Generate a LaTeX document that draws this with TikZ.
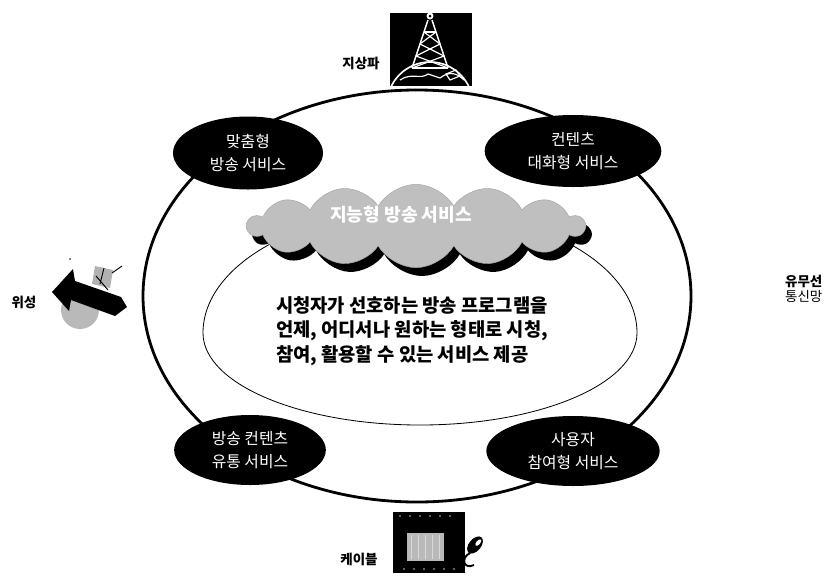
\documentclass[tikz,border=0pt]{standalone}
\usepackage{fontspec}
\newfontfamily\kr{Noto Sans CJK KR}
\usetikzlibrary{shapes.geometric,shapes.symbols,shadows}

\begin{document}
\begin{tikzpicture}[x=0.03cm,y=-0.03cm,
	service/.style={ellipse,fill=black,text=white,inner sep=0pt,align=center,
		font=\kr\fontsize{13.5}{19.5}\selectfont},
	medium/.style={font=\kr\bfseries\fontsize{11.5}{13}\selectfont}]
\useasboundingbox (0,0) rectangle (832,575);
%\draw[red!20] (0,0) grid[step=50] (832,575);

% outer ring and inner area
\draw[line width=2.4pt] (417,296) ellipse (274 and 206);
\draw[line width=0.7pt] (203,333) arc[start angle=180,end angle=360,x radius=217,y radius=123]
	arc[start angle=0,end angle=180,x radius=217,y radius=92];

% cloud
\node[cloud,cloud puffs=14,cloud puff arc=120,cloud ignores aspect,
	minimum width=10.1cm,minimum height=2.5cm,inner sep=0pt,
	fill=gray!50,draw=gray!70,
	drop shadow={shadow xshift=0.18cm,shadow yshift=-0.25cm,fill=black,opacity=1}]
	(cloud) at (416,226) {};
\node[text=white,font=\kr\bfseries\fontsize{15.5}{17}\selectfont] (cloudtitle) at (401,215) {지능형 방송 서비스};

\node[anchor=west,align=left,font=\kr\bfseries\fontsize{16}{20.8}\selectfont] (goal) at (272,331)
	{시청자가 선호하는 방송 프로그램을\\언제, 어디서나 원하는 형태로 시청,\\참여, 활용할 수 있는 서비스 제공};

% four services
\node[service,minimum width=4.5cm,minimum height=2.19cm] (custom) at (248,153) {맞춤형\\방송 서비스};
\node[service,minimum width=5.3cm,minimum height=2.16cm] (talk) at (573,151) {컨텐츠\\대화형 서비스};
\node[service,minimum width=4.55cm,minimum height=2.1cm] (trade) at (250,450) {방송 컨텐츠\\유통 서비스};
\node[service,minimum width=5.2cm,minimum height=2.1cm] (join) at (573,451) {사용자\\참여형 서비스};

% tower
\fill (390,13) rectangle (472,86);
\begin{scope}[white,line width=1pt]
\clip (390,13) rectangle (472,86);
\draw[line width=1.4pt] (430,105) circle (43);
\draw (400,80) .. controls (412,72) and (420,80) .. (428,74) -- (440,78) .. controls (450,70) and (458,74) .. (464,80);
\draw (446,74) -- (456,70) -- (460,76) -- (450,80) -- cycle;
\draw[line width=1.3pt] (428,20) -- (412,68) (432,20) -- (448,68);
\draw (424,32) -- (436,32);
\foreach \a/\b in {32/44,44/56,56/68}
{
	\draw ({428-(\a-20)/3},\a) -- ({432+(\b-20)/3},\b);
	\draw ({432+(\a-20)/3},\a) -- ({428-(\b-20)/3},\b);
}
\draw (412,68) -- (448,68);
\fill (430,16) circle (3.5);
\fill[black] (430,16) circle (1.5);
\end{scope}
\node[medium] (ground) at (361,63) {지상파};

% satellite
\fill[gray!55] (80,310) circle (19);
\fill (52,292) -- (73,269) -- (75,281) -- (121,297) -- (127,307) -- (115,316) -- (71,300) -- (69,311) -- cycle;
\fill[gray!60] (95,266) -- (113,270) -- (110,288) -- (92,284) -- cycle;
\draw[line width=0.8pt] (96,276) -- (108,290) (104,268) -- (100,284) (112,273) -- (122,266);
\fill (70,259) circle (0.8);
\node[medium] (sat) at (24,302) {위성};

% cable
\fill (393,512) rectangle (465,573);
\fill[gray!55] (407,533) rectangle (444,561);
\foreach \i in {411,418,...,440}
	\draw[gray!30,line width=0.6pt] (\i,535) -- (\i,559);
\foreach \i in {400,410,...,455}
{
	\fill[gray!50] (\i,516) circle (0.8);
	\fill[gray!50] (\i+4,569) circle (0.8);
}
\fill[rotate around={-40:(475,545)}] (475,545) ellipse (6 and 10);
\fill[white,rotate around={-40:(475,545)}] (476,541) ellipse (2 and 4);
\draw[line width=1.6pt] (470,553) .. controls (460,558) and (464,570) .. (474,565);
\node[medium] (cable) at (359,559) {케이블};

% wired and wireless
\node[anchor=west,align=left,font=\kr\fontsize{11.5}{13}\selectfont] (net) at (781,289)
	{{\bfseries 유무선}\\통신망};
\end{tikzpicture}
\end{document}
